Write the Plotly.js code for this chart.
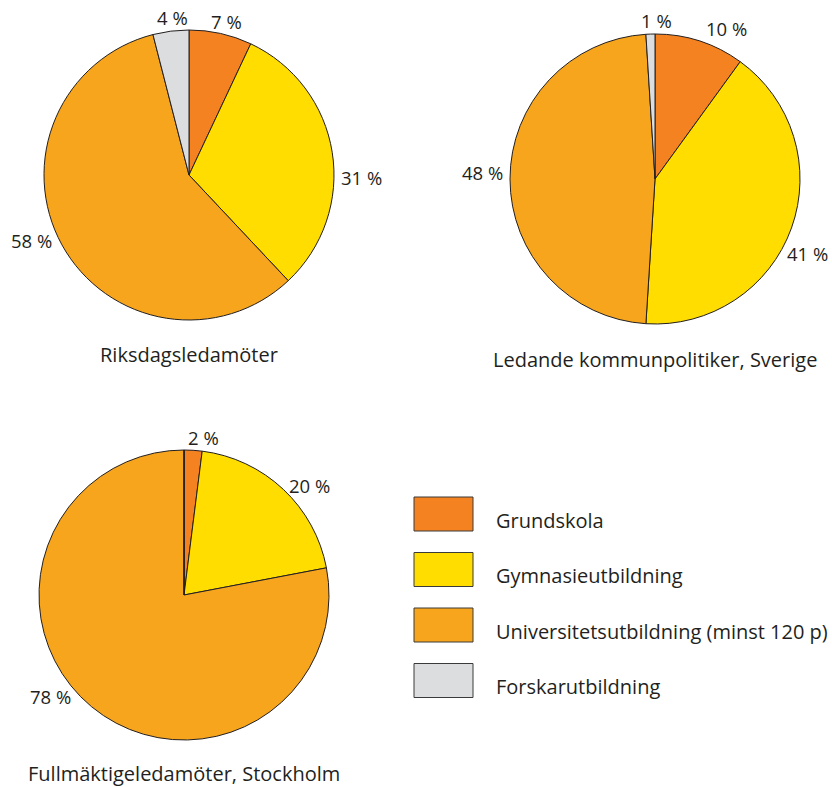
<!DOCTYPE html>
<html>
<head>
<meta charset="utf-8">
<script src="https://cdn.plot.ly/plotly-3.0.1.min.js"></script>
<style>
  html, body { margin: 0; padding: 0; background: #fff; }
  #chart { width: 832px; height: 787px; }
</style>
</head>
<body>
<div id="chart"></div>
<script>
const CATEGORIES = ['Grundskola', 'Gymnasieutbildning', 'Universitetsutbildning (minst 120 p)', 'Forskarutbildning'];
const COLORS = ['#f58220', '#ffdd00', '#f6a51d', '#dcddde'];

const RIKSDAG = [7, 31, 58, 4];
const KOMMUN = [10, 41, 48, 1];
const STOCKHOLM = [2, 20, 78, 0];

const PIE_TITLES = ['Riksdagsledamöter', 'Ledande kommunpolitiker, Sverige', 'Fullmäktigeledamöter, Stockholm'];

const FONT = '"Open Sans", "Noto Sans", sans-serif';
const INK = '#231f20';
const W = 832, H = 787;

// pie boxes in pixels: [left, right, top, bottom]
const BOXES = [
  [44, 334, 30, 320],
  [510, 800, 34, 324],
  [39, 329, 450, 740],
];
// extra rotation (degrees) for some labels, like the original layout
const LABEL_NUDGE = [
  [2, 10, 3, 1],
  [1, 10, 2.3, 2.5],
  [4, 0, 8, 0],
];
const LABEL_GAP = 5;

function domainOf(box) {
  return {
    x: [box[0] / W, box[1] / W],
    y: [1 - box[3] / H, 1 - box[2] / H],
  };
}

function makePie(values, box) {
  return {
    type: 'pie',
    labels: CATEGORIES,
    values: values,
    sort: false,
    direction: 'clockwise',
    rotation: 0,
    domain: domainOf(box),
    marker: {colors: COLORS, line: {color: INK, width: 1}},
    textinfo: 'none',
    hoverinfo: 'label+value',
  };
}

// percent labels just outside each slice, at the slice's middle angle
function sliceLabels(values, box, nudge) {
  let cx = (box[0] + box[1]) / 2;
  let cy = (box[2] + box[3]) / 2;
  let r = (box[1] - box[0]) / 2 + LABEL_GAP;
  let total = values.reduce((a, b) => a + b, 0);
  let cum = 0;
  let out = [];
  for (let i = 0; i < values.length; ++i) {
    let v = values[i];
    let mid = cum + v / 2;
    cum += v;
    if (v <= 0) continue;
    let theta = (mid / total * 360 + nudge[i]) * Math.PI / 180;
    let s = Math.sin(theta), c = Math.cos(theta);
    let yanchor = c > 0.8 ? 'bottom' : (c < -0.8 ? 'top' : 'middle');
    out.push({
      xref: 'paper', yref: 'paper',
      x: (cx + r * s) / W,
      y: 1 - (cy - r * c) / H,
      text: v + ' %',
      showarrow: false,
      xanchor: s > 0.3 ? 'left' : (s < -0.3 ? 'right' : 'center'),
      yanchor: yanchor,
      // the text box has room above the glyphs, pull top labels down a bit
      yshift: yanchor == 'bottom' ? -6 : 0,
      font: {family: FONT, size: 18.5, color: INK},
    });
  }
  return out;
}

const SERIES = [RIKSDAG, KOMMUN, STOCKHOLM];
let traces = SERIES.map((vals, i) => makePie(vals, BOXES[i]));

let annotations = [];
SERIES.forEach((vals, i) => {
  annotations = annotations.concat(sliceLabels(vals, BOXES[i], LABEL_NUDGE[i]));
});

// pie captions under each pie
let titleY = [355, 360, 773];
for (let i = 0; i < PIE_TITLES.length; ++i) {
  annotations.push({
    xref: 'paper', yref: 'paper',
    x: (BOXES[i][0] + BOXES[i][1]) / 2 / W,
    y: 1 - titleY[i] / H,
    text: PIE_TITLES[i],
    showarrow: false,
    xanchor: 'center', yanchor: 'middle',
    font: {family: FONT, size: 20, color: INK},
  });
}

// hand-drawn legend with large keys
let shapes = [];
for (let i = 0; i < CATEGORIES.length; ++i) {
  let top = 497 + i * 55.5;
  shapes.push({
    type: 'rect', xref: 'paper', yref: 'paper',
    x0: 414 / W, x1: 473 / W,
    y0: 1 - (top + 34) / H, y1: 1 - top / H,
    fillcolor: COLORS[i],
    line: {color: '#3a3a3a', width: 1},
  });
  annotations.push({
    xref: 'paper', yref: 'paper',
    x: 494 / W, y: 1 - (top + 23) / H,
    text: CATEGORIES[i],
    showarrow: false,
    xanchor: 'left', yanchor: 'middle',
    font: {family: FONT, size: 20, color: INK},
  });
}

const LAYOUT = {
  width: W,
  height: H,
  margin: {l: 0, r: 0, t: 0, b: 0},
  paper_bgcolor: '#ffffff',
  showlegend: false,
  annotations: annotations,
  shapes: shapes,
};

Plotly.newPlot('chart', traces, LAYOUT, {displayModeBar: false});
</script>
</body>
</html>
